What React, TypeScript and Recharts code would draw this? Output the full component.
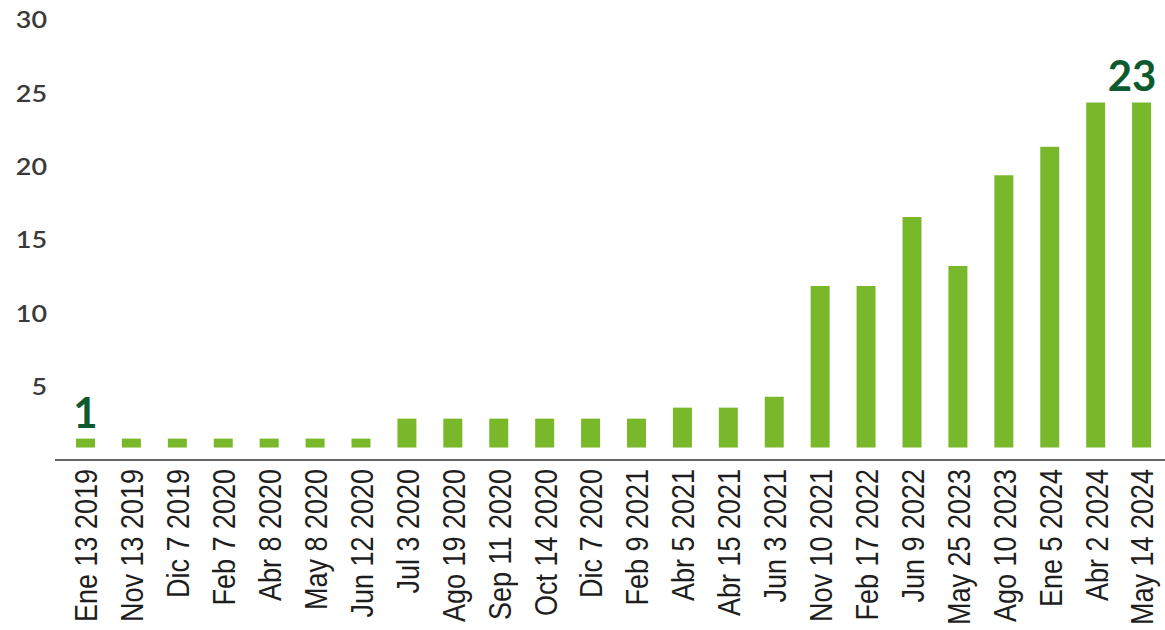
import { Bar, BarChart, LabelList, XAxis, YAxis } from "recharts";

const categories = [
  "Ene 13 2019",
  "Nov 13 2019",
  "Dic 7 2019",
  "Feb 7 2020",
  "Abr 8 2020",
  "May 8 2020",
  "Jun 12 2020",
  "Jul 3 2020",
  "Ago 19 2020",
  "Sep 11 2020",
  "Oct 14 2020",
  "Dic 7 2020",
  "Feb 9 2021",
  "Abr 5 2021",
  "Abr 15 2021",
  "Jun 3 2021",
  "Nov 10 2021",
  "Feb 17 2022",
  "Jun 9 2022",
  "May 25 2023",
  "Ago 10 2023",
  "Ene 5 2024",
  "Abr 2 2024",
  "May 14 2024",
];

// bar tops as read against the y axis
const values = [
  1.46, 1.46, 1.46, 1.46, 1.46, 1.46, 1.46, 2.82, 2.82, 2.82, 2.82, 2.82, 2.82,
  3.57, 3.57, 4.31, 11.87, 11.87, 16.56, 13.23, 19.42, 21.35, 24.38, 24.38,
];

// the printed callouts above the first and last bar
const callouts = ["1", "", "", "", "", "", "", "", "", "", "", "", "", "", "", "", "", "", "", "", "", "", "", "23"];

const yTicks = [5, 10, 15, 20, 25, 30];

// bars float slightly above the axis line in the original
const BAR_BASE = 0.85;

const data = categories.map((name, i) => ({ name, value: values[i], callout: callouts[i] }));

const W = 1165;
const H = 630;
const BAR_COLOR = "#7ab82b";
const LABEL_COLOR = "#0c5a2e";

const XTick = ({ x, y, payload }: any) => (
  <text
    transform={`translate(${x},${y + 7}) rotate(-90) scale(1,1.17)`}
    textAnchor="end"
    dy="0.36em"
    fontFamily="'Liberation Sans', Arial, sans-serif"
    fontSize={27}
    fill="#1e1e1e"
  >
    {payload.value}
  </text>
);

const YTick = ({ y, payload }: any) => (
  <text
    transform={`translate(47,${y}) scale(1.17,1)`}
    textAnchor="end"
    dy="0.36em"
    fontFamily="Lato, sans-serif"
    fontWeight={600}
    fontSize={23}
    fill="#3a3a3a"
  >
    {payload.value}
  </text>
);

const Callout = ({ x, y, width, index }: any) => {
  const text = callouts[index];
  if (!text) return null;
  const half = text.length * 12.5;
  const cx = Math.min(x + width / 2, W - 8 - half);
  return (
    <text
      x={cx}
      y={y - 11}
      textAnchor="middle"
      fontFamily="Lato, sans-serif"
      fontWeight={700}
      fontSize={42}
      fill={LABEL_COLOR}
    >
      {text}
    </text>
  );
};

export default function App() {
  return (
    <div style={{ position: "absolute", left: 0, top: 0, width: W, height: H, background: "#fff" }}>
      <BarChart width={W} height={H} data={data} margin={{ top: 20, right: 0, left: 0, bottom: 0 }}>
        <XAxis
          dataKey="name"
          interval={0}
          height={170}
          tickSize={0}
          tick={<XTick />}
          axisLine={{ stroke: "#666", strokeWidth: 2 }}
          tickLine={false}
          padding={{ left: 8, right: 0 }}
        />
        <YAxis
          width={55}
          domain={[0, 30]}
          ticks={yTicks}
          tick={<YTick />}
          axisLine={false}
          tickLine={false}
        />
        <Bar
          dataKey={(d: any) => [BAR_BASE, d.value]}
          fill={BAR_COLOR}
          barSize={19}
          isAnimationActive={false}
        >
          <LabelList dataKey="callout" content={<Callout />} />
        </Bar>
      </BarChart>
    </div>
  );
}
